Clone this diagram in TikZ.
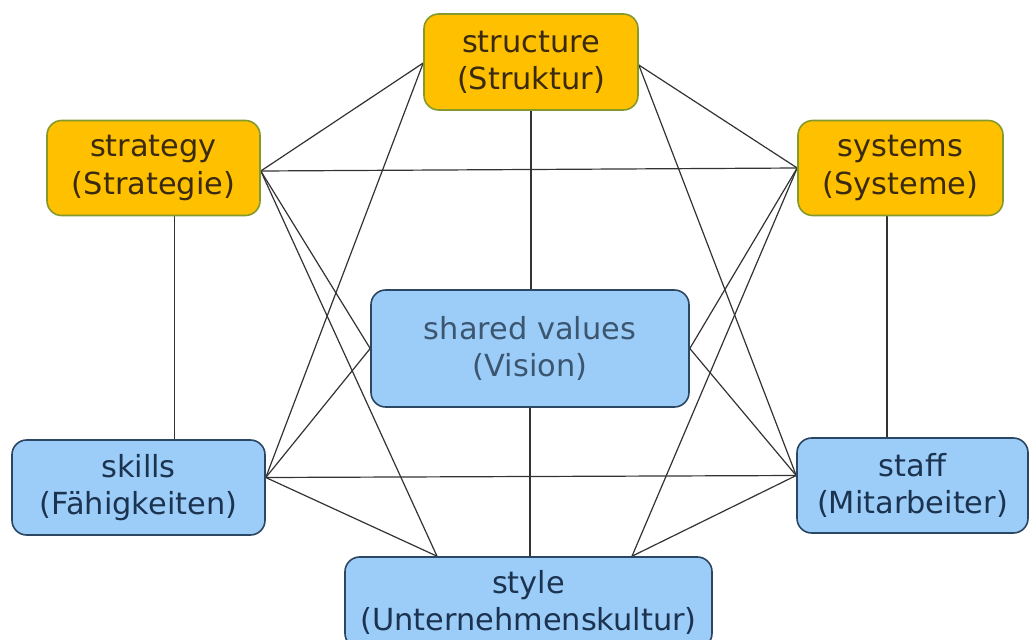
\documentclass[tikz,border=0pt]{standalone}
\usepackage{fontspec}
\setmainfont{DejaVu Sans}
\usetikzlibrary{calc,backgrounds}

\definecolor{ambfill}{HTML}{FFC000}
\definecolor{ambedge}{HTML}{849A2C}
\definecolor{ambtext}{HTML}{3A2A10}
\definecolor{skyfill}{HTML}{9CCDF8}
\definecolor{skyedge}{HTML}{2B4763}
\definecolor{skytext}{HTML}{1C3350}
\definecolor{softtext}{HTML}{3C5670}
\definecolor{wire}{HTML}{333333}

\tikzset{
  sbox/.style={draw, rounded corners=11pt, line width=1.2pt, inner sep=0pt,
    align=center, font=\fontsize{22.8}{27.8}\selectfont},
  hardbox/.style={sbox, fill=ambfill, draw=ambedge, text=ambtext},
  softbox/.style={sbox, fill=skyfill, draw=skyedge, text=skytext},
  wireline/.style={draw=wire, line width=0.9pt}
}

\begin{document}
\begin{tikzpicture}[x=0.75pt, y=-0.75pt]
  \clip (0,0) rectangle (1031,639);

  % the seven elements
  \node[hardbox, minimum width=160.5pt, minimum height=72pt]
    (structure) at (531,62) {structure\\(Struktur)};
  \node[hardbox, minimum width=159.75pt, minimum height=71.25pt]
    (strategy) at (153.5,168) {strategy\\(Strategie)};
  \node[hardbox, minimum width=153.75pt, minimum height=71.25pt]
    (systems) at (900.5,168) {systems\\(Systeme)};
  \node[softbox, text=softtext, minimum width=238.5pt, minimum height=87.75pt]
    (shared) at (530,348.5) {shared values\\(Vision)};
  \node[softbox, minimum width=189.75pt, minimum height=71.25pt]
    (skills) at (138.5,487.5) {skills\\(Fähigkeiten)};
  \node[softbox, minimum width=173.25pt, minimum height=71.25pt]
    (staff) at (912.5,485.5) {staff\\(Mitarbeiter)};
  \node[softbox, minimum width=275.25pt, minimum height=68.25pt]
    (style) at (528.5,602.5) {style\\(Unternehmenskultur)};

  % connection points on the box edges
  \coordinate (strucW) at ($(structure.west)+(0,1)$);
  \coordinate (strucE) at ($(structure.east)+(0,3)$);
  \coordinate (stratE) at ($(strategy.east)+(0,3)$);
  \coordinate (stratS) at ($(strategy.south)+(21,0)$);
  \coordinate (sysS)   at ($(systems.south)+(-13.5,0)$);
  \coordinate (skillE) at ($(skills.east)+(0,-10)$);
  \coordinate (staffW) at ($(staff.west)+(0,-10)$);
  \coordinate (styleL) at ($(style.north)+(-91.5,0)$);
  \coordinate (styleR) at ($(style.north)+(103.5,0)$);

  \begin{scope}[on background layer]
    \fill[white] (0,0) rectangle (1031,639);
    % structure
    \draw[wireline] (strucW) -- (stratE);
    \draw[wireline] (strucW) -- (skillE);
    \draw[wireline] (strucE) -- (systems.west);
    \draw[wireline] (strucE) -- (staffW);
    \draw[wireline] (structure.south) -- (structure.south |- shared.north);
    % strategy
    \draw[wireline] (stratE) -- (systems.west);
    \draw[wireline] (stratE) -- (shared.west);
    \draw[wireline] (stratE) -- (styleL);
    \draw[wireline] (stratS) -- (stratS |- skills.north);
    % systems
    \draw[wireline] (systems.west) -- (shared.east);
    \draw[wireline] (systems.west) -- (styleR);
    \draw[wireline] (sysS) -- (sysS |- staff.north);
    % skills
    \draw[wireline] (skillE) -- (shared.west);
    \draw[wireline] (skillE) -- (staffW);
    \draw[wireline] (skillE) -- (styleL);
    % staff
    \draw[wireline] (staffW) -- (shared.east);
    \draw[wireline] (staffW) -- (styleR);
    % shared values
    \draw[wireline] (shared.south) -- (shared.south |- style.north);
  \end{scope}
\end{tikzpicture}
\end{document}
